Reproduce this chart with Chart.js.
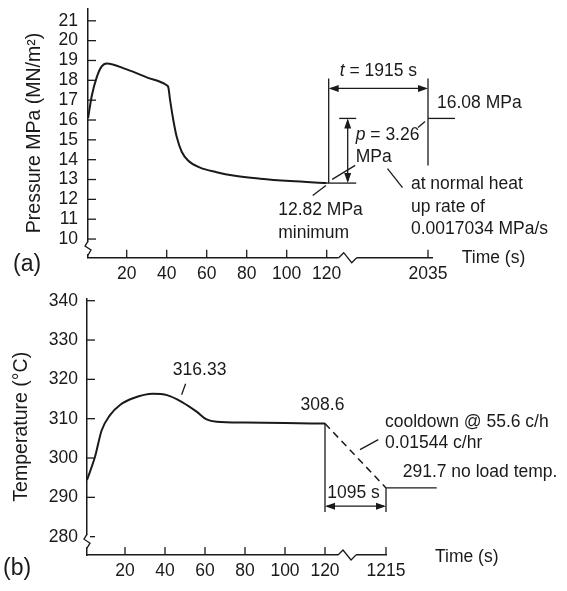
<!DOCTYPE html>
<html>
<head>
<meta charset="utf-8">
<script src="https://cdn.jsdelivr.net/npm/chart.js@4"></script>
<style>
  body { margin: 0; background: #fff; }
  canvas { position: absolute; left: 0; }
  #pressure { top: 0; }
  #temperature { top: 291px; }
</style>
</head>
<body>
<canvas id="pressure" width="567" height="291"></canvas>
<canvas id="temperature" width="567" height="300"></canvas>
<script>
// (a) pressure during the transient, time in s
const pressTime = [0.7, 2.5, 5, 7.5, 10, 20, 30, 40, 40.8, 41.7, 43.3, 45, 47.5, 50.8, 56.7, 65, 73.3, 86.7, 101.7, 120];
const pressure = [16.1, 17.2, 18.15, 18.7, 18.85, 18.55, 18.15, 17.75, 17.65, 17.0, 16.0, 15.15, 14.4, 13.95, 13.6, 13.37, 13.2, 13.04, 12.92, 12.82];
const pressYTicks = [10, 11, 12, 13, 14, 15, 16, 17, 18, 19, 20, 21];
const pressXTicks = [20, 40, 60, 80, 100, 120, 2035];
const heatupEnd = 2035;
const heatupTarget = 16.08;

// (b) temperature, then the cooldown to no-load temperature
const tempTime = [1, 5, 8.3, 12.5, 17.5, 24, 34, 41, 48.3, 55.8, 60.8, 65.8, 80, 100, 120];
const temperature = [294.4, 300.3, 307.0, 310.9, 313.5, 315.2, 316.33, 316.0, 314.3, 311.8, 309.8, 309.2, 309.0, 308.9, 308.75];
const coolTime = [120, 1215];
const coolTemp = [308.75, 292.4];
const tempYTicks = [280, 290, 300, 310, 320, 330, 340];
const tempXTicks = [20, 40, 60, 80, 100, 120, 1215];

const INK = '#1a1a1a';
const FAMILY = '"Liberation Sans", Arial, sans-serif';
const FONT = '17.5px ' + FAMILY;
const ITALIC = 'italic ' + FONT;
const TICK = 8;

Chart.defaults.font.family = FAMILY;
Chart.defaults.font.size = 17.5;
Chart.defaults.color = INK;

// linear axis with a collapsed stretch (the zigzag on the time axis)
class BrokenScale extends Chart.LinearScale {
  static id = 'broken';
  static defaults = Chart.LinearScale.defaults;
  determineDataLimits() {
    this.min = this.options.lo;
    this.max = this.options.hi;
  }
  squash(v) {
    const b = this.options.breakAt, gap = this.options.breakGap;
    return v >= b + gap ? v - gap : Math.min(v, b);
  }
  getPixelForValue(v) {
    return super.getPixelForValue(this.squash(v));
  }
}
Chart.register(BrokenScale);

const pairs = (xs, ys) => xs.map((x, i) => ({ x: x, y: ys[i] }));
const useTicks = list => s => { s.ticks = list.map(v => ({ value: v })); };
const fixY = w => s => { s.width = w; s.paddingTop = 0; s.paddingBottom = 0; };
const fixX = h => s => { s.height = h; s.paddingLeft = 0; s.paddingRight = 0; };

function seg(ctx, pts, w) {
  ctx.beginPath();
  pts.forEach(([x, y], i) => i ? ctx.lineTo(x, y) : ctx.moveTo(x, y));
  ctx.lineWidth = w || 1.3;
  ctx.strokeStyle = INK;
  ctx.setLineDash([]);
  ctx.stroke();
}
function head(ctx, x, y, dx, dy) {
  const L = 10, W = 3.5;
  ctx.beginPath();
  ctx.moveTo(x, y);
  ctx.lineTo(x - dx * L - dy * W, y - dy * L + dx * W);
  ctx.lineTo(x - dx * L + dy * W, y - dy * L - dx * W);
  ctx.closePath();
  ctx.fillStyle = INK;
  ctx.fill();
}
function say(ctx, str, x, y, align, font) {
  ctx.font = font || FONT;
  ctx.textAlign = align || 'left';
  ctx.textBaseline = 'middle';
  ctx.fillStyle = INK;
  ctx.fillText(str, x, y);
}
function sayParts(ctx, parts, x, y, align) {
  let w = 0;
  parts.forEach(([s, f]) => { ctx.font = f; w += ctx.measureText(s).width; });
  let cx = align === 'center' ? x - w / 2 : x;
  parts.forEach(([s, f]) => { say(ctx, s, cx, y, 'left', f); ctx.font = f; cx += ctx.measureText(s).width; });
}
function innerTicks(chart) {
  const { ctx, chartArea: a, scales: { x, y } } = chart;
  x.ticks.forEach(t => { const p = x.getPixelForValue(t.value); seg(ctx, [[p, a.bottom], [p, a.bottom - TICK]], 1.3); });
  y.ticks.forEach(t => { const p = y.getPixelForValue(t.value); seg(ctx, [[a.left, p], [a.left + TICK, p]], 1.3); });
}
function yBreak(ctx, x, cy) {
  ctx.fillStyle = '#fff';
  ctx.fillRect(x - 3, cy - 6, 6, 12);
  seg(ctx, [[x, cy - 7], [x - 3, cy - 2], [x + 3, cy + 2], [x, cy + 7]], 1.3);
}
function xBreak(ctx, cx, y) {
  ctx.fillStyle = '#fff';
  ctx.fillRect(cx - 9, y - 3, 18, 6);
  seg(ctx, [[cx - 9, y], [cx - 4, y - 5], [cx + 4, y + 5], [cx + 9, y]], 1.3);
}

function pressureNotes(chart) {
  const { ctx, chartArea: a } = chart;
  const X = t => chart.scales.x.getPixelForValue(t);
  const Y = v => chart.scales.y.getPixelForValue(v);
  innerTicks(chart);
  yBreak(ctx, a.left, Y(10) + 9);
  xBreak(ctx, X(120) + 21, a.bottom);

  const tEnd = pressTime[pressTime.length - 1], pEnd = pressure[pressure.length - 1];
  const x0 = X(tEnd) + 2, x1 = X(heatupEnd);
  const yT = Y(heatupTarget), yM = Y(pEnd);
  const yArrow = yT - 30, yTop = yArrow - 10;

  // t dimension
  seg(ctx, [[x0, yM], [x0, yTop]]);
  seg(ctx, [[x1, yTop], [x1, yT + 47]]);
  seg(ctx, [[x1, yT], [x1 + 27, yT]]);
  seg(ctx, [[x0 + 2, yArrow], [x1 - 2, yArrow]]);
  head(ctx, x0, yArrow, -1, 0);
  head(ctx, x1, yArrow, 1, 0);
  sayParts(ctx, [['t', ITALIC], [' = ' + (heatupEnd - tEnd) + ' s', FONT]], (x0 + x1) / 2, yArrow - 17, 'center');
  say(ctx, heatupTarget.toFixed(2) + ' MPa', x1 + 9, yT - 15);

  // p dimension
  const xp = x0 + 19;
  seg(ctx, [[x0 + 10.5, yT], [x0 + 27.5, yT]]);
  seg(ctx, [[x0 - 2, yM], [x0 + 27.5, yM]]);
  seg(ctx, [[xp, yT + 2], [xp, yM - 2]]);
  head(ctx, xp, yT, 0, -1);
  head(ctx, xp, yM, 0, 1);
  sayParts(ctx, [['p', ITALIC], [' = ' + (heatupTarget - pEnd).toFixed(2), FONT]], x0 + 27, yM - 47.7, 'left');
  say(ctx, 'MPa', x0 + 27, yM - 25.7);
  seg(ctx, [[x1 - 10, yT + 9], [x1 - 3, yT + 3]]);
  seg(ctx, [[x0 + 3.5, yM - 3.7], [x0 + 26.5, yM - 17.7]]);

  say(ctx, pEnd.toFixed(2) + ' MPa', x0 - 50.5, yM + 27.3);
  say(ctx, 'minimum', x0 - 50.5, yM + 50.3);
  seg(ctx, [[x0 - 16, yM + 12.3], [x0 - 2.8, yM + 2.3]]);

  seg(ctx, [[x0 + 58.8, yM - 14.4], [x0 + 73.8, yM + 4.6]]);
  say(ctx, 'at normal heat', x0 + 82.2, yM + 0.6);
  say(ctx, 'up rate of', x0 + 82.2, yM + 24.3);
  say(ctx, '0.0017034 MPa/s', x0 + 82.2, yM + 45.6);

  say(ctx, 'Time (s)', a.right + 29.7, a.bottom + 0.3);
  say(ctx, '(a)', 13, 265, 'left', '23px ' + FAMILY);
}

function temperatureNotes(chart) {
  const { ctx, chartArea: a } = chart;
  const X = t => chart.scales.x.getPixelForValue(t);
  const Y = v => chart.scales.y.getPixelForValue(v);
  innerTicks(chart);
  yBreak(ctx, a.left, Y(280) + 4.5);
  xBreak(ctx, X(120) + 22, a.bottom);

  const x0 = X(coolTime[0]), x1 = X(coolTime[1]);
  const yS = Y(coolTemp[0]), yE = Y(coolTemp[1]);
  const yBot = yE + 24, yArrow = yBot - 5.7;

  seg(ctx, [[x0, yS], [x0, yBot]]);
  seg(ctx, [[x1, yE], [x1, yBot]]);
  seg(ctx, [[x1, yE], [x1 + 50.7, yE]]);
  seg(ctx, [[x0 + 2, yArrow], [x1 - 2, yArrow]]);
  head(ctx, x0, yArrow, -1, 0);
  head(ctx, x1, yArrow, 1, 0);
  say(ctx, (coolTime[1] - coolTime[0]) + ' s', (x0 + x1) / 2 - 2, yArrow - 13, 'center');

  say(ctx, '308.6', x0 - 2.5, yS - 18, 'center');
  say(ctx, 'cooldown @ 55.6 c/h', x0 + 60, yS - 1.5);
  say(ctx, '0.01544 c/hr', x0 + 60, yS + 20);
  seg(ctx, [[x0 + 35, yS + 26], [x0 + 53.3, yS + 16]]);
  say(ctx, '291.7 no load temp.', x1 + 16.7, yE - 16.2);

  const px = X(48.3), py = Y(314.3);
  seg(ctx, [[px + 4, py - 18], [px, py - 7]]);
  say(ctx, '316.33', px + 18, py - 31.5, 'center');

  say(ctx, 'Time (s)', a.right + 49, a.bottom + 1.7);
  say(ctx, '(b)', 3, 278, 'left', '23px ' + FAMILY);
}

function panel(id, cfg) {
  const border = { display: true, color: INK, width: 1.5 };
  return new Chart(document.getElementById(id), {
    type: 'line',
    data: { datasets: cfg.datasets },
    options: {
      responsive: false,
      animation: false,
      devicePixelRatio: 1,
      events: [],
      layout: { padding: cfg.padding },
      plugins: { legend: { display: false }, tooltip: { enabled: false } },
      scales: {
        x: {
          type: 'broken', lo: cfg.x.lo, hi: cfg.x.hi, breakAt: cfg.x.breakAt, breakGap: cfg.x.breakGap,
          bounds: 'data',
          afterBuildTicks: useTicks(cfg.x.ticks),
          afterFit: fixX(cfg.x.height),
          grid: { display: false, drawTicks: false },
          border: border,
          ticks: { autoSkip: false, maxRotation: 0, padding: 5.5, color: INK, callback: v => String(v) }
        },
        y: {
          min: cfg.y.min, max: cfg.y.max,
          afterBuildTicks: useTicks(cfg.y.ticks),
          afterFit: fixY(cfg.y.width),
          grid: { display: false, drawTicks: false },
          border: border,
          ticks: { autoSkip: false, padding: cfg.y.pad, color: INK, callback: v => String(v) },
          title: {
            display: true, text: cfg.y.title, color: INK, font: { size: 19.5 },
            padding: { top: cfg.y.titlePad, bottom: 0 }
          }
        }
      }
    },
    plugins: [{ id: id + 'Notes', afterDraw: cfg.notes }]
  });
}

panel('pressure', {
  padding: { top: 8.3, right: 135, bottom: 0, left: 0 },
  x: { lo: 0.65, hi: 172.65, breakAt: 135, breakGap: 1864.35, ticks: pressXTicks, height: 33.3 },
  y: { min: 9.06, max: 21.63, ticks: pressYTicks, width: 88, pad: 10, title: 'Pressure MPa (MN/m²)', titlePad: 22.8 },
  datasets: [{
    data: pairs(pressTime, pressure),
    borderColor: INK, borderWidth: 2, pointRadius: 0, fill: false,
    cubicInterpolationMode: 'monotone'
  }],
  notes: pressureNotes
});

panel('temperature', {
  padding: { top: 7.5, right: 181, bottom: 0, left: 0 },
  x: { lo: 1, hi: 150.5, breakAt: 135, breakGap: 1064.5, ticks: tempXTicks, height: 36 },
  y: { min: 275.34, max: 340.56, ticks: tempYTicks, width: 87, pad: 9, title: 'Temperature (°C)', titlePad: 10 },
  datasets: [{
    data: pairs(tempTime, temperature),
    borderColor: INK, borderWidth: 2, pointRadius: 0, fill: false,
    cubicInterpolationMode: 'monotone'
  }, {
    data: pairs(coolTime, coolTemp),
    borderColor: INK, borderWidth: 1.5, pointRadius: 0, fill: false,
    borderDash: [7, 5]
  }],
  notes: temperatureNotes
});
</script>
</body>
</html>
